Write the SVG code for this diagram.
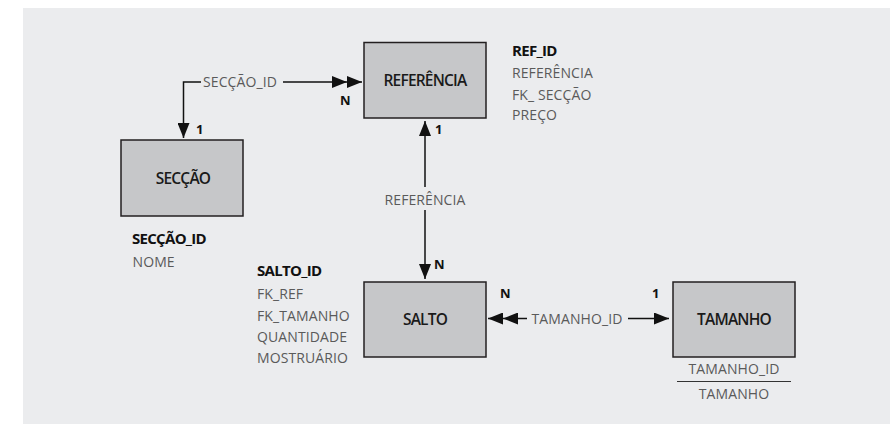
<svg xmlns="http://www.w3.org/2000/svg" width="890" height="424" viewBox="0 0 890 424">
  <style>
    .box { fill: #c6c7c9; stroke: #231f20; stroke-width: 1.5; }
    .boxtxt { font-family: "Open Sans", "Noto Sans", sans-serif; font-weight: 600; font-size: 15.5px; letter-spacing: -0.8px; fill: #1a1a1a; text-anchor: middle; }
    .key { font-family: "Open Sans", "Noto Sans", sans-serif; font-weight: 700; font-size: 15px; letter-spacing: -0.7px; fill: #111; }
    .attr { font-family: "Open Sans", "Noto Sans", sans-serif; font-weight: 400; font-size: 14px; letter-spacing: 0.1px; fill: #5a5a5a; }
    .card { font-family: "Open Sans", "Noto Sans", sans-serif; font-weight: 700; font-size: 13px; fill: #111; }
    .conn { fill: none; stroke: #111; stroke-width: 1.5; }
  </style>
  <defs>
    <marker id="ah" markerUnits="userSpaceOnUse" markerWidth="16" markerHeight="12" viewBox="0 0 16 12" refX="15" refY="6" orient="auto">
      <path d="M0,0 L15,6 L0,12 Z" fill="#111"/>
    </marker>
  </defs>
  <rect x="23" y="8" width="867" height="416" fill="#ebecee"/>

  <g id="connectors">
    <!-- SECÇÃO_ID -->
    <path class="conn" d="M201,82 H183.5 V138" marker-end="url(#ah)"/>
    <path class="conn" d="M283,82 H347 H362" marker-mid="url(#ah)" marker-end="url(#ah)"/>
    <text class="attr" x="203" y="87">SECÇÃO_ID</text>
    <text class="card" x="196" y="134">1</text>
    <text class="card" x="340" y="105">N</text>
    <!-- REFERÊNCIA -->
    <path class="conn" d="M425,187 V121" marker-end="url(#ah)"/>
    <path class="conn" d="M425,210 V279" marker-end="url(#ah)"/>
    <text class="attr" x="425" y="205" text-anchor="middle">REFERÊNCIA</text>
    <text class="card" x="435" y="134">1</text>
    <text class="card" x="434" y="269">N</text>
    <!-- TAMANHO_ID -->
    <path class="conn" d="M527,318.5 H503 H488" marker-mid="url(#ah)" marker-end="url(#ah)"/>
    <path class="conn" d="M628,318.5 H669" marker-end="url(#ah)"/>
    <text class="attr" x="531.5" y="323.5">TAMANHO_ID</text>
    <text class="card" x="500" y="298">N</text>
    <text class="card" x="652" y="298">1</text>
  </g>

  <g id="referencia">
    <rect class="box" x="364" y="42.5" width="122" height="75.5"/>
    <text class="boxtxt" x="425" y="85.5">REFERÊNCIA</text>
    <text class="key" x="512" y="56">REF_ID</text>
    <text class="attr" x="512" y="78">REFERÊNCIA</text>
    <text class="attr" x="512" y="99.5">FK_ SECÇÃO</text>
    <text class="attr" x="512" y="120">PREÇO</text>
  </g>

  <g id="seccao">
    <rect class="box" x="121" y="140" width="122" height="76"/>
    <text class="boxtxt" x="183" y="183.5">SECÇÃO</text>
    <text class="key" x="132" y="243.5">SECÇÃO_ID</text>
    <text class="attr" x="132.5" y="266.5">NOME</text>
  </g>

  <g id="salto">
    <rect class="box" x="364" y="282" width="122" height="75"/>
    <text class="boxtxt" x="425" y="325">SALTO</text>
    <text class="key" x="257" y="276">SALTO_ID</text>
    <text class="attr" x="257" y="298.5">FK_REF</text>
    <text class="attr" x="257" y="320.5">FK_TAMANHO</text>
    <text class="attr" x="257" y="341.5">QUANTIDADE</text>
    <text class="attr" x="257" y="362.5">MOSTRUÁRIO</text>
  </g>

  <g id="tamanho">
    <rect class="box" x="673" y="282" width="122" height="75"/>
    <text class="boxtxt" x="734" y="325">TAMANHO</text>
    <text class="attr" x="734" y="373.5" text-anchor="middle">TAMANHO_ID</text>
    <line x1="677" y1="381.5" x2="791" y2="381.5" stroke="#333" stroke-width="1"/>
    <text class="attr" x="734" y="398.5" text-anchor="middle">TAMANHO</text>
  </g>
</svg>
